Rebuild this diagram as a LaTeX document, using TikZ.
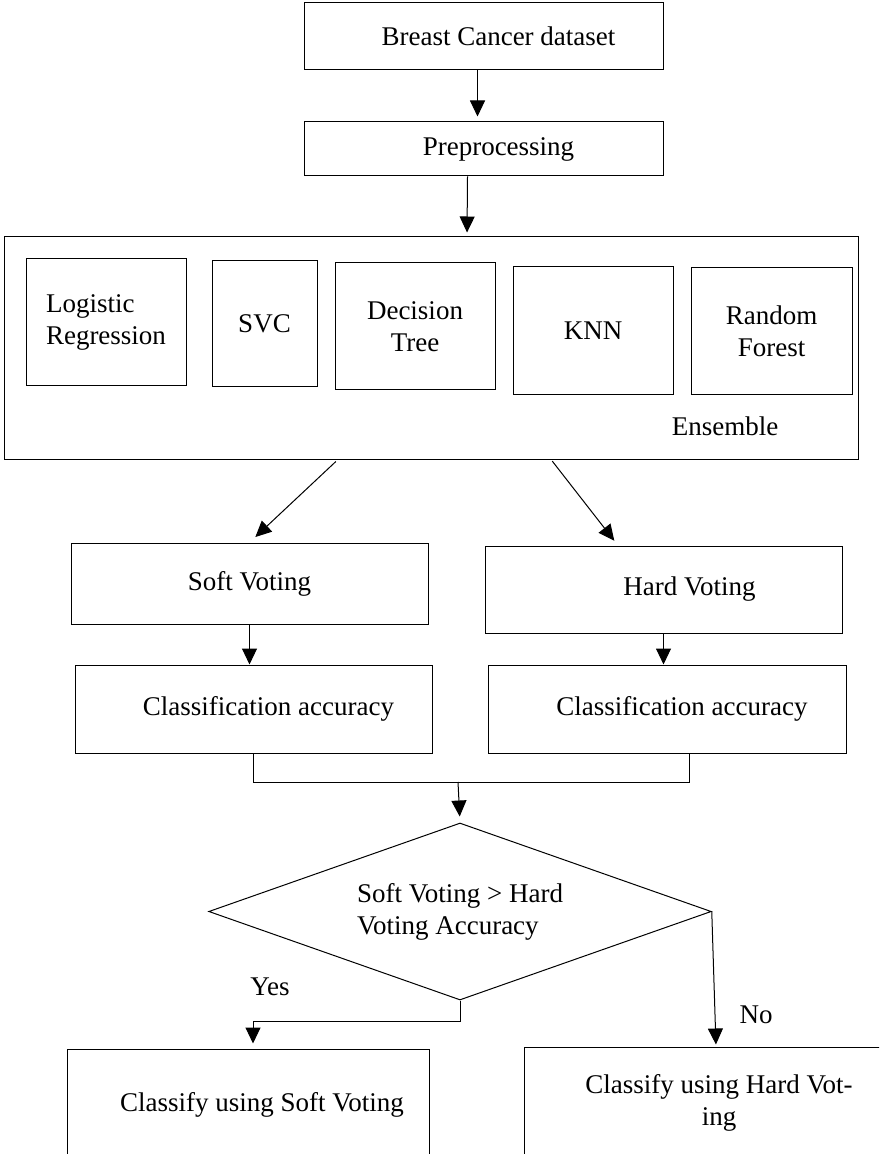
\documentclass[tikz,border=0pt]{standalone}
\usepackage{fontspec}
\setmainfont{Liberation Serif}
\usetikzlibrary{arrows.meta,shapes.geometric}
\tikzset{
  box/.style={draw,rectangle,inner sep=2pt},
  indent/.style={execute at begin node=\hspace*{#1}},
}
\begin{document}
\begin{tikzpicture}[x=.5pt,y=-.5pt,>={Triangle[length=8pt,width=7.5pt]},line width=.5pt,font=\fontsize{13.5}{16}\selectfont]
  \useasboundingbox (0,0) rectangle (879,1154);
  \clip (0,0) rectangle (879,1154);
  % input and preprocessing
  \node[box,indent=15pt,minimum width=179.5pt,minimum height=33.5pt] (data) at (483.5,36.5) {Breast Cancer dataset};
  \node[box,indent=15pt,minimum width=179.5pt,minimum height=27pt] (prep) at (483.5,149) {Preprocessing};
  % ensemble of classifiers
  \node[box,minimum width=427pt,minimum height=111pt] (ens) at (431,348) {};
  \node[box,align=left,minimum width=80pt,minimum height=63.5pt] (lr) at (106,322.5) {Logistic\\Regression};
  \node[box,minimum width=52.5pt,minimum height=63pt] (svc) at (264.5,324) {SVC};
  \node[box,align=center,minimum width=80pt,minimum height=63.5pt] (dt) at (415,326.5) {Decision\\Tree};
  \node[box,minimum width=80pt,minimum height=63.5pt] (knn) at (593,330.5) {KNN};
  \node[box,align=center,minimum width=80.5pt,minimum height=63pt] (rf) at (771.5,331) {Random\\Forest};
  \node (enslbl) at (725,426) {Ensemble};
  % voting
  \node[box,minimum width=178.5pt,minimum height=40.5pt] (soft) at (249.5,583.5) {Soft Voting};
  \node[box,indent=26pt,minimum width=178.5pt,minimum height=43.5pt] (hard) at (663.5,589.5) {Hard Voting};
  \node[box,indent=15pt,minimum width=178.5pt,minimum height=44pt] (clsL) at (253.5,709) {Classification accuracy};
  \node[box,indent=15pt,minimum width=179pt,minimum height=44pt] (clsR) at (667,709) {Classification accuracy};
  % decision
  \node[draw,diamond,aspect=2.84,align=left,inner sep=1pt,minimum width=251.25pt,minimum height=88.5pt] (cmp) at (460,911.5) {Soft Voting > Hard\\Voting Accuracy};
  \node[box,indent=14pt,minimum width=181pt,minimum height=56pt] (csoft) at (248,1105) {Classify using Soft Voting};
  \node[box,align=center,minimum width=195pt,minimum height=56pt] (chard) at (719,1103) {Classify using Hard Vot-\\ing};
  \node (yes) at (270,987) {Yes};
  \node (no) at (756,1015) {No};
  % connectors
  \draw[->,shorten >=2.5pt] ([xshift=-3pt]data.south) -- ([xshift=-3pt]prep.north);
  \draw[->,shorten >=2pt] ([xshift=-8pt]prep.south) -- ([xshift=18pt]ens.north);
  \draw[->,shorten <=1.5pt,shorten >=4pt] ([xshift=-46.5pt]ens.south) -- (soft.north);
  \draw[->,shorten <=1pt,shorten >=3pt] ([xshift=60pt]ens.south) -- ([xshift=-22.75pt]hard.north);
  \draw[->] (soft.south) -- (soft.south |- clsL.north);
  \draw[->] (hard.south) -- (hard.south |- clsR.north);
  \coordinate (join) at (458,782);
  \draw (clsL.south) -- (clsL.south |- join) -- ([xshift=11pt]clsR.south |- join) -- ([xshift=11pt]clsR.south);
  \draw[->,shorten >=3pt] (join) -- (cmp.north);
  \draw[->,shorten >=2.5pt] (cmp.south) -- ++(0,21) -| ([xshift=2.5pt]csoft.north);
  \draw[->,shorten >=1pt] (cmp.east) -- ([xshift=-1.5pt]chard.north);
\end{tikzpicture}
\end{document}
